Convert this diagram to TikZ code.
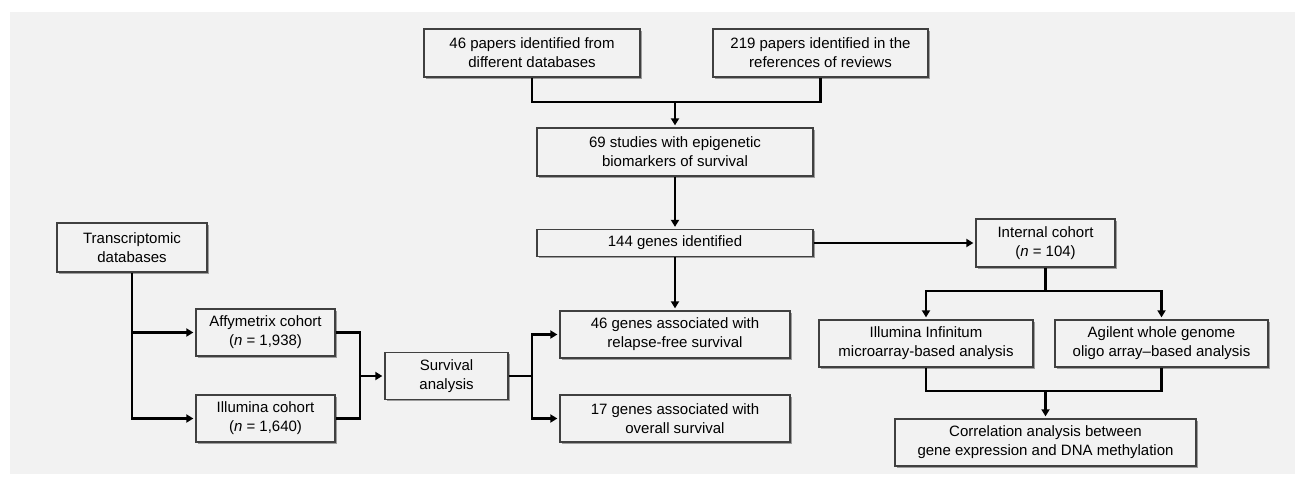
\documentclass[tikz,border=0pt]{standalone}
\usepackage{fontspec}
\setmainfont{Liberation Sans}
\usetikzlibrary{arrows.meta,shadows}

\definecolor{bggray}{HTML}{F2F2F2}
\definecolor{boxline}{HTML}{404040}

\tikzset{
	box/.style={draw=boxline, line width=1.3pt, fill=bggray, align=center, inner sep=0pt,
		font=\fontsize{15}{19}\selectfont,
		drop shadow={shadow xshift=1.6pt, shadow yshift=-1.6pt, opacity=0.35, fill=black}},
	link/.style={line width=2.6pt, draw=black},
	arr/.style={link, -{Triangle[length=7pt,width=8pt]}, shorten >=2pt}
}

\begin{document}
\begin{tikzpicture}[x=1pt,y=-1pt]
		
		% Canvas and background
		\useasboundingbox (0,0) rectangle (1305,479);
		\fill[bggray] (10,12) rectangle (1295,474);
		
		% Literature search
		\node[box, minimum width=216pt, minimum height=48pt] (papers) at (532,53) {46 papers identified from\\different databases};
		\node[box, minimum width=215pt, minimum height=48pt] (reviews) at (820.5,53) {219 papers identified in the\\references of reviews};
		\node[box, minimum width=276pt, minimum height=48pt] (studies) at (675,152) {69 studies with epigenetic\\biomarkers of survival};
		\node[box, minimum width=276pt, minimum height=27pt] (genes) at (675,243) {144 genes identified};
		
		% Transcriptomic side
		\node[box, minimum width=150pt, minimum height=49pt] (trans) at (132,247.5) {Transcriptomic\\databases};
		\node[box, minimum width=139pt, minimum height=47pt] (affy) at (265.5,332.5) {Affymetrix cohort\\(\textit{n} = 1,938)};
		\node[box, minimum width=139pt, minimum height=47pt] (illu) at (265.5,418.5) {Illumina cohort\\(\textit{n} = 1,640)};
		\node[box, minimum width=123pt, minimum height=47pt] (surv) at (446.5,376) {Survival\\analysis};
		\node[box, minimum width=230pt, minimum height=47pt] (rfs) at (675,334.5) {46 genes associated with\\relapse-free survival};
		\node[box, minimum width=230pt, minimum height=47pt] (os) at (675,418.5) {17 genes associated with\\overall survival};
		
		% Internal cohort side
		\node[box, minimum width=139pt, minimum height=48pt] (internal) at (1045.5,243) {Internal cohort\\(\textit{n} = 104)};
		\node[box, minimum width=214pt, minimum height=47pt] (infin) at (926,343.5) {Illumina Infinitum\\microarray-based analysis};
		\node[box, minimum width=213pt, minimum height=47pt] (agil) at (1161.5,343.5) {Agilent whole genome\\oligo array--based analysis};
		\node[box, minimum width=301pt, minimum height=47pt] (corr) at (1045.5,442.5) {Correlation analysis between\\gene expression and DNA methylation};
		
		% Junction points
		\coordinate (jtop) at (675,102);
		\coordinate (jleft) at (360,376);
		\coordinate (jright) at (532,376);
		\coordinate (jint) at (1045.5,291);
		\coordinate (jbot) at (1045.5,391);
		
		% Top connectors
		\draw[link] (papers.south) |- (jtop);
		\draw[link] (reviews.south) |- (jtop);
		\draw[arr] (jtop) -- (studies.north);
		\draw[arr] (studies) -- (genes);
		\draw[arr] (genes) -- (rfs);
		\draw[arr] (genes) -- (internal);
		
		% Left connectors
		\draw[arr] (trans.south) |- (illu.west);
		\draw[arr] (trans.south |- affy.west) -- (affy.west);
		\draw[link] (affy.east) -| (jleft) |- (illu.east);
		\draw[arr] (jleft) -- (surv.west);
		\draw[link] (surv.east) -- (jright);
		\draw[arr] (jright) |- (rfs.west);
		\draw[arr] (jright) |- (os.west);
		
		% Right connectors
		\draw[link] (internal.south) -- (jint);
		\draw[arr] (jint) -| (infin.north);
		\draw[arr] (jint) -| (agil.north);
		\draw[link] (infin.south) |- (jbot);
		\draw[link] (agil.south) |- (jbot);
		\draw[arr] (jbot) -- (corr.north);
		
\end{tikzpicture}
\end{document}
